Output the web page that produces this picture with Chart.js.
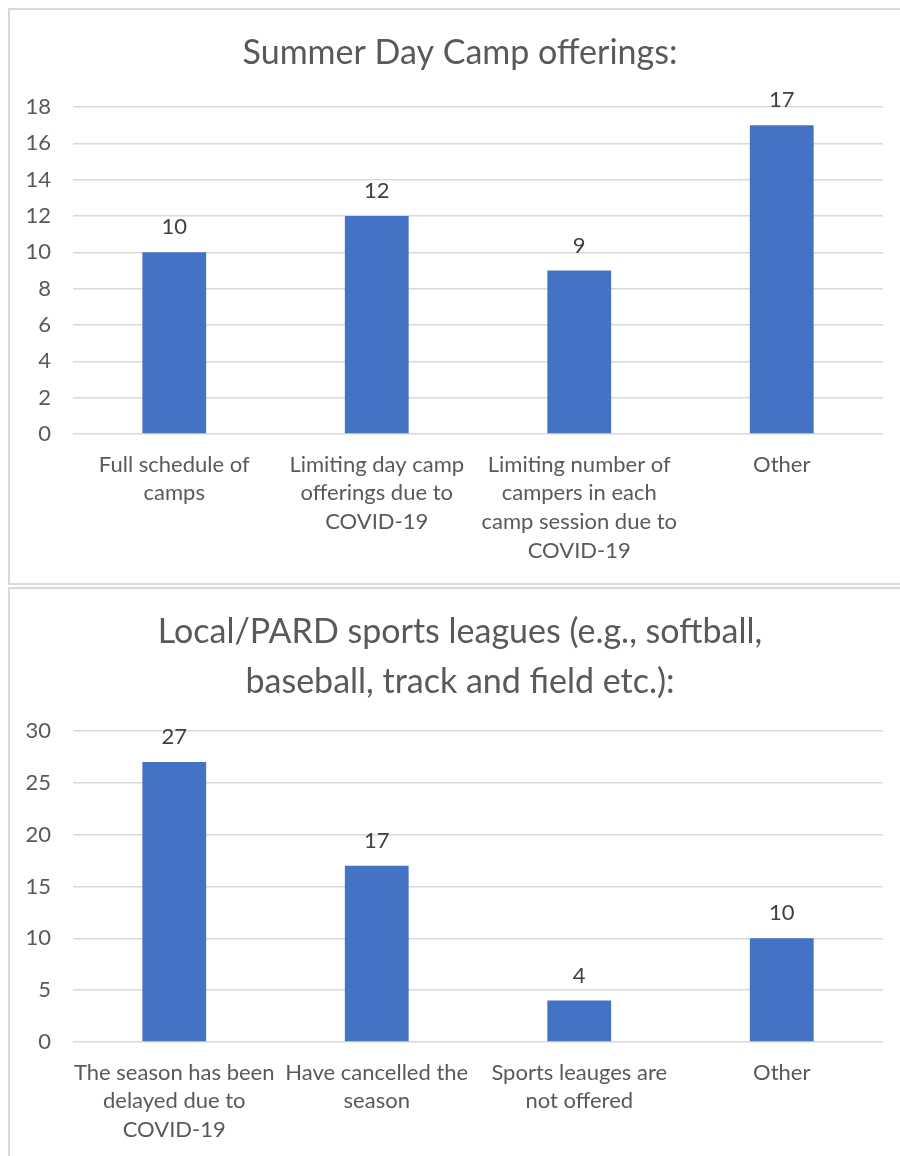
<!DOCTYPE html>
<html>
<head>
<meta charset="utf-8">
<script src="https://cdn.jsdelivr.net/npm/chart.js@4"></script>
<style>
  body { margin: 0; background: #fff; width: 900px; height: 1156px; overflow: hidden; position: relative; }
  .box { position: absolute; left: 8px; width: 910px; border-left: 2px solid #d9d9d9; border-top: 2px solid #d9d9d9; }
  #box1 { top: 8px; height: 573px; border-bottom: 2px solid #d9d9d9; }
  #box2 { top: 587px; height: 600px; }
  .wrap { position: absolute; left: 0; top: 0; width: 900px; }
</style>
</head>
<body>
<div class="box" id="box1"><div class="wrap" style="height:573px"><canvas id="camp"></canvas></div></div>
<div class="box" id="box2"><div class="wrap" style="height:567px"><canvas id="leagues"></canvas></div></div>
<script>
const campLabels = [
  ['Full schedule of', 'camps'],
  ['Limiting day camp', 'offerings due to', 'COVID-19'],
  ['Limiting number of', 'campers in each', 'camp session due to', 'COVID-19'],
  'Other'
];
const campValues = [10, 12, 9, 17];

const leagueLabels = [
  ['The season has been', 'delayed due to', 'COVID-19'],
  ['Have cancelled the', 'season'],
  ['Sports leauges are', 'not offered'],
  'Other'
];
const leagueValues = [27, 17, 4, 10];

const FONT = 'Lato, "Open Sans", sans-serif';

// draws the value above each bar
const valueLabels = {
  id: 'valueLabels',
  afterDatasetsDraw(chart) {
    const ctx = chart.ctx;
    ctx.save();
    ctx.font = '22px ' + FONT;
    ctx.fillStyle = '#404040';
    ctx.textAlign = 'center';
    ctx.textBaseline = 'middle';
    chart.getDatasetMeta(0).data.forEach((bar, i) => {
      ctx.fillText(chart.data.datasets[0].data[i], bar.x, bar.y - 25);
    });
    ctx.restore();
  }
};

function makeChart(id, labels, values, title, yMax, yStep, titleBottom, xHeight) {
  new Chart(document.getElementById(id), {
    type: 'bar',
    data: {
      labels: labels,
      datasets: [{
        data: values,
        backgroundColor: '#4472c4',
        borderWidth: 0,
        categoryPercentage: 1,
        barPercentage: 0.315
      }]
    },
    plugins: [valueLabels],
    options: {
      responsive: true,
      maintainAspectRatio: false,
      animation: false,
      layout: { padding: 0 },
      plugins: {
        legend: { display: false },
        tooltip: { enabled: false },
        title: {
          display: true,
          text: title,
          color: '#595959',
          font: { family: FONT, size: 34, weight: 'normal', lineHeight: 1.47 },
          padding: { top: 18, bottom: titleBottom }
        }
      },
      scales: {
        x: {
          grid: { display: false, drawTicks: false },
          border: { display: false },
          ticks: {
            color: '#595959',
            font: { family: FONT, size: 22, lineHeight: 1.31 },
            padding: 16,
            maxRotation: 0,
            autoSkip: false
          },
          afterFit(scale) { scale.height = xHeight; }
        },
        y: {
          min: 0,
          max: yMax,
          grid: { color: '#d9d9d9', lineWidth: 1.5, drawTicks: false },
          border: { display: false },
          ticks: {
            stepSize: yStep,
            color: '#595959',
            font: { family: FONT, size: 22 },
            padding: 22
          },
          afterFit(scale) { scale.width = 63; }
        },
        // empty right margin so the title centres like the original
        yRight: {
          type: 'linear',
          position: 'right',
          grid: { display: false, drawTicks: false },
          border: { display: false },
          ticks: { display: false },
          afterFit(scale) { scale.width = 27; }
        }
      }
    }
  });
}

makeChart('camp', campLabels, campValues, 'Summer Day Camp offerings:', 18, 2, 29, 149);
makeChart('leagues', leagueLabels, leagueValues,
  ['Local/PARD sports leagues (e.g., softball,', 'baseball, track and field etc.):'], 30, 5, 24, 114);
</script>
</body>
</html>
